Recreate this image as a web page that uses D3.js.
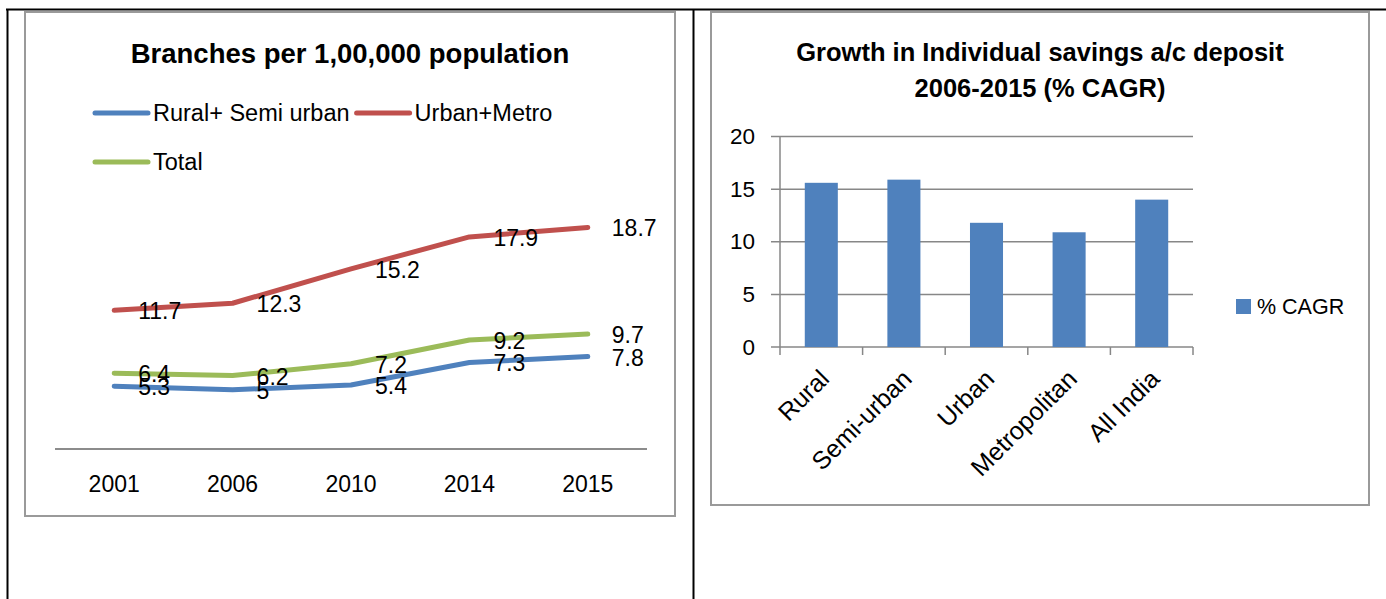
<!DOCTYPE html>
<html>
<head>
<meta charset="utf-8">
<script src="https://cdn.jsdelivr.net/npm/d3@7/dist/d3.min.js"></script>
<style>
    body { margin: 0; background: #ffffff; }
    svg { display: block; font-family: 'Liberation Sans', Arial, sans-serif; }
</style>
</head>
<body>
<svg id="page" width="1386" height="599"></svg>
<script>
// left chart: branches per 1,00,000 population
const YEARS = ['2001', '2006', '2010', '2014', '2015'];
const RURAL_SEMI_URBAN = [5.3, 5, 5.4, 7.3, 7.8];
const URBAN_METRO = [11.7, 12.3, 15.2, 17.9, 18.7];
const TOTAL = [6.4, 6.2, 7.2, 9.2, 9.7];
const SERIES_NAMES = ['Rural+ Semi urban', 'Urban+Metro', 'Total'];
const SERIES_COLORS = ['#4f81bd', '#c0504d', '#9bbb59'];

// right chart: growth in savings deposits
const AREAS = ['Rural', 'Semi-urban', 'Urban', 'Metropolitan', 'All India'];
const CAGR = [15.6, 15.9, 11.8, 10.9, 14.0];
const CAGR_TICKS = [0, 5, 10, 15, 20];
const CAGR_LEGEND = '% CAGR';

const svg = d3.select('#page');

// table borders round the two cells
const table = svg.append('g').attr('class', 'table');
table.append('line')
    .attr('x1', 6).attr('x2', 1386).attr('y1', 9.5).attr('y2', 9.5)
    .attr('stroke', '#000').attr('stroke-width', 2);
[7.5, 693.5].forEach(x => {
    table.append('line')
        .attr('x1', x).attr('x2', x).attr('y1', 9).attr('y2', 599)
        .attr('stroke', '#000').attr('stroke-width', 2);
});

function frame(x, y, w, h) {
    svg.append('rect')
        .attr('x', x).attr('y', y).attr('width', w).attr('height', h)
        .attr('fill', '#fff')
        .attr('stroke', '#9a9a9a')
        .attr('stroke-width', 2);
}

function renderLines() {
    frame(25, 12, 650, 504);

    svg.append('text')
        .attr('x', 350).attr('y', 53)
        .attr('text-anchor', 'middle')
        .attr('dominant-baseline', 'central')
        .attr('font-size', 27.5)
        .attr('font-weight', 'bold')
        .text('Branches per 1,00,000 population');

    const x = d3.scalePoint().domain(YEARS).range([55, 647]).padding(0.5);
    const y = d3.scaleLinear().domain([0, 20]).range([449, 212]);

    svg.append('line')
        .attr('x1', 55).attr('x2', 647).attr('y1', y(0)).attr('y2', y(0))
        .attr('stroke', '#8c8c8c').attr('stroke-width', 2);

    svg.append('g')
        .selectAll('text')
        .data(YEARS)
        .enter()
        .append('text')
        .attr('x', d => x(d))
        .attr('y', 484)
        .attr('text-anchor', 'middle')
        .attr('dominant-baseline', 'central')
        .attr('font-size', 23)
        .text(d => d);

    const series = [RURAL_SEMI_URBAN, URBAN_METRO, TOTAL];
    const line = d3.line()
        .x((d, i) => x(YEARS[i]))
        .y(d => y(d));

    series.forEach((values, s) => {
        svg.append('path')
            .datum(values)
            .attr('fill', 'none')
            .attr('stroke', SERIES_COLORS[s])
            .attr('stroke-width', 5)
            .attr('stroke-linecap', 'round')
            .attr('stroke-linejoin', 'round')
            .attr('d', line);
    });

    series.forEach(values => {
        svg.append('g')
            .selectAll('text')
            .data(values)
            .enter()
            .append('text')
            .attr('x', (d, i) => x(YEARS[i]) + 24)
            .attr('y', d => y(d) + 1)
            .attr('dominant-baseline', 'central')
            .attr('font-size', 23)
            .text(d => String(d));
    });

    // legend, two rows like the original
    const legend = svg.append('g').attr('class', 'legend');
    const rows = [[0, 1], [2]];
    rows.forEach((row, r) => {
        let lx = 95;
        const ly = 113 + r * 49;
        row.forEach(s => {
            legend.append('line')
                .attr('x1', lx).attr('x2', lx + 53)
                .attr('y1', ly).attr('y2', ly)
                .attr('stroke', SERIES_COLORS[s])
                .attr('stroke-width', 5)
                .attr('stroke-linecap', 'round');
            const label = legend.append('text')
                .attr('x', lx + 58)
                .attr('y', ly)
                .attr('dominant-baseline', 'central')
                .attr('font-size', 23.5)
                .text(SERIES_NAMES[s]);
            lx += 58 + label.node().getComputedTextLength() + 7;
        });
    });
}

function renderBars() {
    frame(711, 12, 658, 493);

    svg.append('text')
        .attr('text-anchor', 'middle')
        .attr('font-size', 25.5)
        .attr('font-weight', 'bold')
        .selectAll('tspan')
        .data(['Growth in Individual savings a/c deposit', '2006-2015 (% CAGR)'])
        .enter()
        .append('tspan')
        .attr('x', 1040)
        .attr('y', (d, i) => 61 + i * 36)
        .text(d => d);

    const x = d3.scaleBand().domain(AREAS).range([780, 1193]).paddingInner(0.6).paddingOuter(0.3);
    const edges = d3.scaleBand().domain(AREAS).range([780, 1193]);
    const y = d3.scaleLinear().domain([0, 20]).range([347, 136.5]);

    const grid = svg.append('g');
    grid.selectAll('line')
        .data(CAGR_TICKS)
        .enter()
        .append('line')
        .attr('x1', 771).attr('x2', 1193)
        .attr('y1', d => y(d)).attr('y2', d => y(d))
        .attr('stroke', '#878787')
        .attr('stroke-width', 1.5);

    grid.selectAll('text')
        .data(CAGR_TICKS)
        .enter()
        .append('text')
        .attr('x', 755)
        .attr('y', d => y(d))
        .attr('text-anchor', 'end')
        .attr('dominant-baseline', 'central')
        .attr('font-size', 22.5)
        .text(d => d);

    svg.append('line')
        .attr('x1', 780).attr('x2', 780).attr('y1', y(20)).attr('y2', y(0))
        .attr('stroke', '#878787').attr('stroke-width', 1.5);

    svg.append('g')
        .selectAll('line')
        .data(AREAS.map(d => edges(d)).concat([1193]))
        .enter()
        .append('line')
        .attr('x1', d => d).attr('x2', d => d)
        .attr('y1', y(0)).attr('y2', y(0) + 8)
        .attr('stroke', '#878787').attr('stroke-width', 1.5);

    svg.append('g')
        .selectAll('rect')
        .data(CAGR)
        .enter()
        .append('rect')
        .attr('x', (d, i) => x(AREAS[i]))
        .attr('y', d => y(d))
        .attr('width', x.bandwidth())
        .attr('height', d => y(0) - y(d))
        .attr('fill', '#4f81bd');

    svg.append('g')
        .selectAll('text')
        .data(AREAS)
        .enter()
        .append('text')
        .attr('transform', d => `translate(${edges(d) + edges.bandwidth() / 2 + 3},${374}) rotate(-45)`)
        .attr('text-anchor', 'end')
        .attr('dominant-baseline', 'central')
        .attr('font-size', 25)
        .text(d => d);

    svg.append('rect')
        .attr('x', 1236).attr('y', 299)
        .attr('width', 15).attr('height', 15)
        .attr('fill', '#4f81bd');
    svg.append('text')
        .attr('x', 1257).attr('y', 306.5)
        .attr('dominant-baseline', 'central')
        .attr('font-size', 21.5)
        .text(CAGR_LEGEND);
}

renderLines();
renderBars();
</script>
</body>
</html>
